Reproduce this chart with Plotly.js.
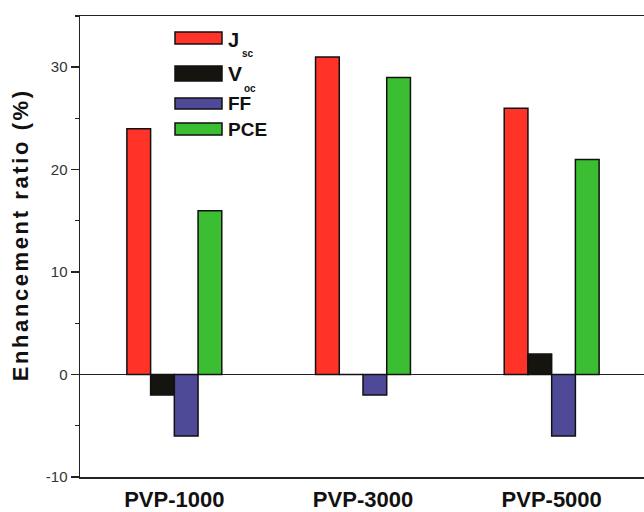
<!DOCTYPE html>
<html>
<head>
<meta charset="utf-8">
<script src="https://cdn.plot.ly/plotly-3.0.1.min.js"></script>
<style>
html, body { margin:0; padding:0; overflow:hidden; background:#fff; width:644px; height:512px; }
#chart { width:646px; height:512px; }
</style>
</head>
<body>
<div id="chart"></div>
<script>
// ---- data ----
const categories = ['PVP-1000', 'PVP-3000', 'PVP-5000'];
const seriesNames = ['J<sub>sc</sub>', 'V<sub>oc</sub>', 'FF', 'PCE'];
const legendMain = ['J', 'V', 'FF', 'PCE'];
const legendSub = ['sc', 'oc', '', ''];
const jsc = [24, 31, 26];
const voc = [-2, 0, 2];
const ff = [-6, -2, -6];
const pce = [16, 29, 21];
const colors = ['#FF3328', '#16140F', '#4F4A98', '#3CBE32'];
const yTickVals = [-10, 0, 10, 20, 30];
const yTickText = ['-10', '0', '10', '20', '30'];

const values = [jsc, voc, ff, pce];
const FONT = 'Liberation Sans, Arial, sans-serif';

const traces = values.map((v, i) => ({
  type: 'bar',
  name: seriesNames[i],
  x: categories,
  y: v,
  marker: { color: colors[i], line: { color: '#111', width: 1.5 } },
  showlegend: false
}));

// plot area geometry in px (for legend placement)
const L = 80, R = 646, T = 16, B = 477;
const px = v => (v - L) / (R - L);
const py = v => (B - v) / (B - T);

const legendRows = [
  { y0: 32, y1: 44, ty: 40, sx: 240, sy: 54, size: 20 },
  { y0: 66, y1: 81, ty: 73, sx: 242, sy: 88, size: 21 },
  { y0: 98, y1: 109, ty: 103.5, sx: 0, sy: 0, size: 19 },
  { y0: 123, y1: 135, ty: 129.5, sx: 0, sy: 0, size: 19 }
];

const shapes = legendRows.map((r, i) => ({
  type: 'rect', xref: 'paper', yref: 'paper',
  x0: px(175), x1: px(222), y0: py(r.y1), y1: py(r.y0),
  fillcolor: colors[i], line: { color: '#111', width: 1.5 }
}));

const annotations = [];
legendRows.forEach((r, i) => {
  annotations.push({
    xref: 'paper', yref: 'paper', x: px(226), y: py(r.ty),
    xanchor: 'left', yanchor: 'middle', showarrow: false,
    text: legendMain[i],
    font: { family: FONT, size: r.size, color: '#111', weight: 'bold' }
  });
  if (legendSub[i]) {
    annotations.push({
      xref: 'paper', yref: 'paper', x: px(r.sx), y: py(r.sy),
      xanchor: 'left', yanchor: 'middle', showarrow: false,
      text: legendSub[i],
      font: { family: FONT, size: 10, color: '#111', weight: 'bold' }
    });
  }
});
annotations.push({
  xref: 'paper', yref: 'paper', x: px(20), y: py(235),
  xanchor: 'center', yanchor: 'middle', showarrow: false, textangle: -90,
  text: 'Enhancement ratio (%)',
  font: { family: FONT, size: 22, color: '#111', weight: 'bold' }
});

const layout = {
  width: 646, height: 512,
  margin: { l: 80, r: 0, t: 16, b: 35, pad: 0 },
  paper_bgcolor: '#fff', plot_bgcolor: '#fff',
  barmode: 'group', bargap: 0.497, bargroupgap: 0,
  showlegend: false,
  xaxis: {
    type: 'category', range: [-0.5, 2.5],
    showline: true, linecolor: '#222', linewidth: 1.5, mirror: true,
    ticks: '', showgrid: false, zeroline: false, ticklabelstandoff: 2,
    tickfont: { family: FONT, size: 22, color: '#111', weight: 'bold' }
  },
  yaxis: {
    range: [-10, 35], tickvals: yTickVals, ticktext: yTickText,
    showline: true, linecolor: '#222', linewidth: 1.5,
    ticks: 'outside', ticklen: 8, tickwidth: 1.5, tickcolor: '#222',
    minor: { dtick: 5, tick0: 0, ticks: 'outside', ticklen: 4, tickwidth: 1.2, tickcolor: '#222' },
    showgrid: false,
    zeroline: true, zerolinecolor: '#222', zerolinewidth: 1.5,
    tickfont: { family: FONT, size: 15, color: '#333' }
  },
  yaxis2: {
    overlaying: 'y', side: 'right', range: [-10, 35], tickvals: yTickVals,
    showline: true, linecolor: '#222', linewidth: 1.5,
    ticks: 'inside', ticklen: 6, tickwidth: 1.5, tickcolor: '#222',
    minor: { dtick: 5, tick0: 0, ticks: 'inside', ticklen: 3, tickwidth: 1.2, tickcolor: '#222' },
    showticklabels: false, showgrid: false, zeroline: false
  },
  shapes: shapes,
  annotations: annotations
};

Plotly.newPlot('chart', traces, layout, { staticPlot: true }).then(gd => {
  gd.querySelectorAll('.annotation-text').forEach(t => {
    if ((t.textContent || '').indexOf('Enhancement') === 0) {
      t.style.letterSpacing = '2.6px';
    }
  });
});
</script>
</body>
</html>
